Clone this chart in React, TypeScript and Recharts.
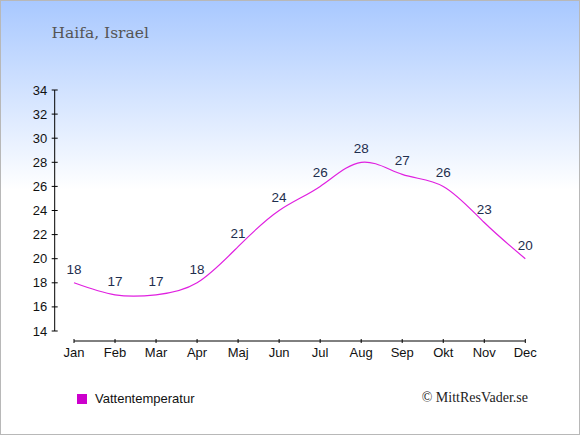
import React from "react"
import { LineChart, Line, XAxis, YAxis, LabelList, ReferenceLine } from "recharts"

const months = ["Jan", "Feb", "Mar", "Apr", "Maj", "Jun", "Jul", "Aug", "Sep", "Okt", "Nov", "Dec"]
const waterTemp = [18, 17, 17, 18, 21, 24, 26, 28, 27, 26, 23, 20]
const yTicks = [14, 16, 18, 20, 22, 24, 26, 28, 30, 32, 34]

const title = "Haifa, Israel"
const seriesName = "Vattentemperatur"
const credit = "© MittResVader.se"

const data = months.map((m, i) => ({ month: m, temp: waterTemp[i] }))

const LINE = "#e020e0"
const LABEL = "#1e2e4e"
const AXIS_FONT = "'Liberation Sans', Arial, sans-serif"

// x axis sits ~10px below the 14° gridline
const xAxisLevel = 14 - 10 / 12.05

function YTick(props: any) {
  const { x, y, payload } = props
  return (
    <g>
      <line x1={x - 3} x2={x + 3} y1={y} y2={y} stroke="#000" />
      <text x={x - 7.5} y={y + 4.5} textAnchor="end" fontSize={13} fontFamily={AXIS_FONT} fill="#111">
        {payload.value}
      </text>
    </g>
  )
}

function XTick(props: any) {
  const { x, y, payload } = props
  return (
    <g>
      <line x1={x} x2={x} y1={y + 8} y2={y + 12} stroke="#000" />
      <text x={x} y={y + 26} textAnchor="middle" fontSize={13} fontFamily={AXIS_FONT} fill="#111">
        {payload.value}
      </text>
    </g>
  )
}

export default function App() {
  return (
    <div
      style={{
        position: "absolute",
        left: 0,
        top: 0,
        width: 580,
        height: 435,
        background: "linear-gradient(#a8c8ff 0px, #ffffff 190px, #ffffff 435px)",
        boxShadow: "inset 0 0 0 1px #b8b8b8",
      }}
    >
      <svg width={580} height={435} style={{ position: "absolute", left: 0, top: 0 }}>
        <text x={51.5} y={37.5} fontFamily="'DejaVu Serif', serif" fontSize={15.5} fill="#555">
          {title}
        </text>
        <rect x={77} y={394} width={10} height={10} fill="#cc00cc" />
        <text x={95} y={403} fontFamily={AXIS_FONT} fontSize={13} fill="#111">
          {seriesName}
        </text>
        <text x={528} y={401.5} textAnchor="end" fontFamily="'Liberation Serif', serif" fontSize={14} fill="#222">
          {credit}
        </text>
      </svg>
      <div style={{ position: "absolute", left: 0, top: 0 }}>
        <LineChart width={580} height={435} data={data} margin={{ top: 90, right: 54.7, left: 0, bottom: 80 }}>
          <YAxis
            width={54.7}
            domain={[14, 34]}
            ticks={yTicks}
            interval={0}
            axisLine={{ stroke: "#000" }}
            tickLine={false}
            tickSize={0}
            tickMargin={0}
            tick={<YTick />}
          />
          <XAxis
            dataKey="month"
            height={24}
            padding={{ left: 19.3, right: 0 }}
            axisLine={false}
            tickLine={false}
            tickSize={0}
            tickMargin={0}
            interval={0}
            tick={<XTick />}
          />
          <ReferenceLine
            segment={[
              { x: "Jan", y: xAxisLevel },
              { x: "Dec", y: xAxisLevel },
            ]}
            stroke="#000"
            ifOverflow="visible"
          />
          <Line
            type="natural"
            dataKey="temp"
            name={seriesName}
            stroke={LINE}
            strokeWidth={1.2}
            dot={false}
            activeDot={false}
            isAnimationActive={false}
          >
            <LabelList dataKey="temp" position="top" offset={9} fill={LABEL} fontSize={13.5} fontFamily={AXIS_FONT} />
          </Line>
        </LineChart>
      </div>
    </div>
  )
}
